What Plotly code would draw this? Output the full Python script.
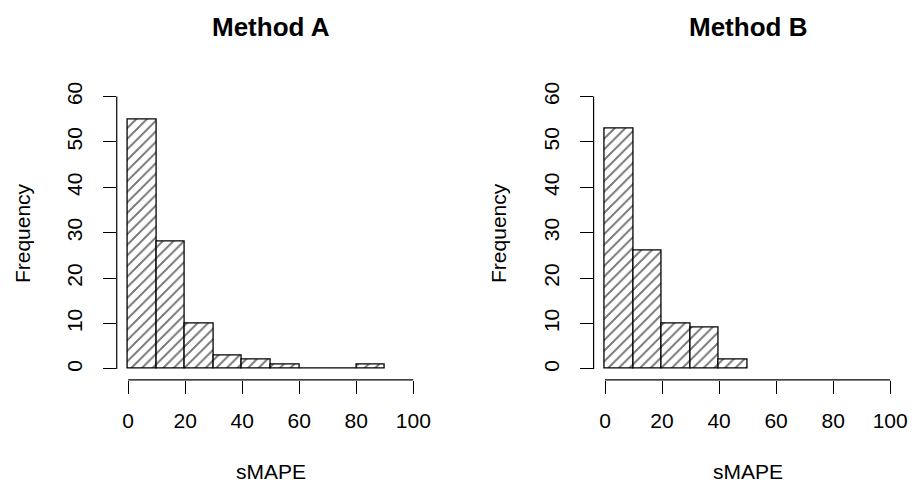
import plotly.graph_objects as go

bin_edges = [0, 10, 20, 30, 40, 50, 60, 70, 80, 90]
counts_a = [55, 28, 10, 3, 2, 1, 0, 0, 1]
counts_b = [53, 26, 10, 9, 2]
titles = ["Method A", "Method B"]
x_ticks = [0, 20, 40, 60, 80, 100]
y_ticks = [0, 10, 20, 30, 40, 50, 60]
x_label = "sMAPE"
y_label = "Frequency"

FONT = "Liberation Sans, Arial, Helvetica, sans-serif"
W, H = 917, 484
x_domains = [[117.5 / W, 427.5 / W], [597.5 / W, 907.5 / W]]
y_domain = [1 - 379 / H, 1 - 82.3 / H]

fig = go.Figure()

for i, counts in enumerate([counts_a, counts_b]):
    centers = [(bin_edges[j] + bin_edges[j + 1]) / 2 for j in range(len(counts))]
    widths = [bin_edges[j + 1] - bin_edges[j] for j in range(len(counts))]
    xa = "x" if i == 0 else "x2"
    ya = "y" if i == 0 else "y2"
    fig.add_trace(go.Bar(
        x=centers, y=counts, width=widths,
        marker=dict(color="white",
                    line=dict(color="black", width=1.3),
                    pattern=dict(shape="/", fgcolor="black", bgcolor="white",
                                 size=7.5, solidity=0.2)),
        xaxis=xa, yaxis=ya, showlegend=False, hoverinfo="x+y",
    ))

axis_font = dict(family=FONT, size=21, color="black")
for i in range(2):
    sfx = "" if i == 0 else "2"
    fig.update_layout(**{
        "xaxis" + sfx: dict(domain=x_domains[i], range=[-4, 104], anchor="y" + sfx,
                            tickmode="array", tickvals=x_ticks,
                            ticktext=[str(v) for v in x_ticks],
                            ticks="outside", ticklen=13, tickwidth=1.2, tickcolor="black",
                            showgrid=False, zeroline=False, showline=False,
                            tickfont=axis_font, ticklabelstandoff=9, fixedrange=True),
        "yaxis" + sfx: dict(domain=y_domain, range=[-2.4, 62.4], anchor="x" + sfx,
                            tickmode="array", tickvals=y_ticks,
                            ticktext=[str(v) for v in y_ticks],
                            ticks="outside", ticklen=13, tickwidth=1.2, tickcolor="black",
                            showgrid=False, zeroline=False, showline=False,
                            tickangle=-90,
                            tickfont=axis_font, ticklabelstandoff=12, fixedrange=True),
    })
    xref = "x" + sfx
    yref = "y" + sfx
    fig.add_shape(type="line", xref=xref, yref=yref + " domain",
                  x0=x_ticks[0], x1=x_ticks[-1], y0=0, y1=0,
                  line=dict(color="black", width=1.2))
    fig.add_shape(type="line", xref=xref + " domain", yref=yref,
                  x0=0, x1=0, y0=y_ticks[0], y1=y_ticks[-1],
                  line=dict(color="black", width=1.2))
    xc = (x_domains[i][0] + x_domains[i][1]) / 2
    fig.add_annotation(text="<b>" + titles[i] + "</b>", x=xc, y=1 - 23 / H,
                       xref="paper", yref="paper", showarrow=False,
                       font=dict(family=FONT, size=26, color="black"),
                       xanchor="center", yanchor="middle")
    fig.add_annotation(text=x_label, x=xc, y=1 - 471 / H,
                       xref="paper", yref="paper", showarrow=False,
                       font=axis_font, xanchor="center", yanchor="middle")
    ylx = (22.5 if i == 0 else 502.5) / W
    fig.add_annotation(text=y_label, x=ylx, y=(y_domain[0] + y_domain[1]) / 2,
                       xref="paper", yref="paper", showarrow=False, textangle=-90,
                       font=axis_font, xanchor="center", yanchor="middle")

fig.update_layout(width=W, height=H, margin=dict(l=0, r=0, t=0, b=0),
                  paper_bgcolor="white", plot_bgcolor="white", bargap=0,
                  font=dict(family=FONT, color="black"))

post = (
    "document.body.style.margin='0';document.body.style.overflow='hidden';"
    "var st=document.createElement('style');"
    "st.textContent='pattern path{shape-rendering:crispEdges !important;}';"
    "document.head.appendChild(st);"
)
fig.write_html("out.html", config={"displayModeBar": False}, post_script=post)
